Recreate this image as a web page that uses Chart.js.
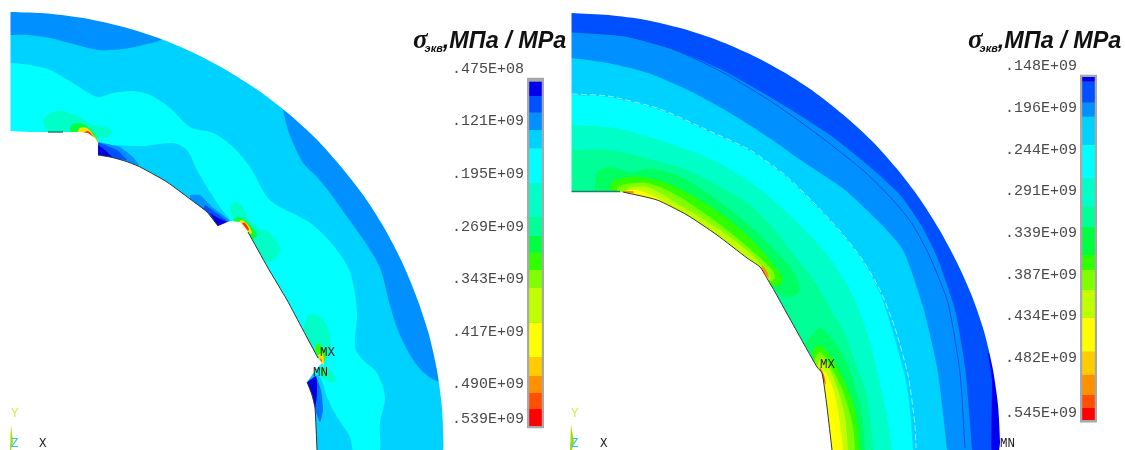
<!DOCTYPE html>
<html>
<head>
  <title>Stress contours</title>
  <script src="https://cdn.jsdelivr.net/npm/chart.js"></script>
  <style>
    html, body { margin: 0; background: #fff; }
    body { width: 1125px; height: 450px; overflow: hidden; position: relative; filter: blur(0.45px); }
    canvas { position: absolute; top: 0; }
    .title { position: absolute; top: 24px; white-space: nowrap; color: #111; font: italic bold 23.4px "Liberation Sans"; }
    .title .sig { font: italic bold 27px "Liberation Serif"; }
    .title sub { font-size: 11px; vertical-align: -4px; margin-left: -3px; margin-right: 0; }
    .note { position: absolute; font: 12.5px "Liberation Mono"; color: #222; line-height: 12px; }
  </style>
</head>
<body>
  <canvas id="contours" width="1125" height="450" style="left:0"></canvas>
  <canvas id="barLeft" width="99" height="450" style="left:445px"></canvas>
  <canvas id="barRight" width="99" height="450" style="left:998px"></canvas>

  <div class="title" style="left:413px"><span class="sig">σ</span><sub>экв</sub>,МПа / MPa</div>
  <div class="title" style="left:968px"><span class="sig">σ</span><sub>экв</sub>,МПа / MPa</div>

  <div class="note" style="left:320px;top:347px">MX</div>
  <div class="note" style="left:313px;top:367px">MN</div>
  <div class="note" style="left:820px;top:359px">MX</div>
  <div class="note" style="left:1000px;top:438px">MN</div>
  <div class="note" style="left:11px;top:408px;color:#c8f050">Y</div>
  <div class="note" style="left:11px;top:438px;color:#30c0ff">Z</div>
  <div class="note" style="left:39px;top:438px">X</div>
  <div class="note" style="left:571px;top:408px;color:#c8f050">Y</div>
  <div class="note" style="left:571px;top:438px;color:#30c0ff">Z</div>
  <div class="note" style="left:600px;top:438px">X</div>

  <script>
    // colour scale, stress in 1e6 Pa
    const bandColors = ['#0000f0','#0050ff','#0090ff','#00d2ff','#00ffff','#00ffc8','#00ff96','#00ff40','#30ff00','#80ff00','#c0ff00','#ffff00','#ffcc00','#ff9000','#ff5000','#ff0000'];
    const leftEdges = [65.3,85.4,108.9,133.1,158.8,207.6,255.3,282,305.4,329.7,354.5,403.7,451.9,478.5,502.4,524.9,548.7];
    const rightEdges = [160.9,166.3,190.3,206.3,238.6,276.4,309.2,332.4,364.4,381.5,404.4,436,474.9,501.5,524.4,539.2,553];
    const leftTicks = [47.5,121,195,269,343,417,490,539];
    const leftTickLabels = ['.475E+08','.121E+09','.195E+09','.269E+09','.343E+09','.417E+09','.490E+09','.539E+09'];
    const rightTicks = [148,196,244,291,339,387,434,482,545];
    const rightTickLabels = ['.148E+09','.196E+09','.244E+09','.291E+09','.339E+09','.387E+09','.434E+09','.482E+09','.545E+09'];

    // left section, outlines
    const leftArc = [[10.5,12],[48,13.6],[86,18.6],[122.5,26.8],[158.5,38],[193,52.6],[226,70],[258,90.3],[288,113.3],[316,138.8],[341,166.7],[363.5,195.5],[384,227.5],[401.5,261],[416.5,296.9],[428.5,332.9],[436.9,369.8],[441.9,407.3],[443.5,445],[443.5,470]];
    const leftHole = [[10.5,131],[30,132],[80,132],[88,133],[95,138],[98,143],[98,155],[110,157],[125,161],[138,166],[153,174],[167,182],[190,199],[207,212],[218,226],[230,221],[240,222],[248,232],[268,268],[287,300],[303,330],[318,358],[322,363],[317,368],[307,382],[312,395],[315,408],[317,450],[317,470],[-10,470],[-10,131]];
    const leftEdgeA = [[98,155],[110,157],[125,161],[138,166],[153,174],[167,182],[190,199],[207,212],[218,226]];
    const leftEdgeB = [[248,232],[268,268],[287,300],[303,330],[318,358]];
    const leftEdgeC = [[307,382],[312,395],[315,408],[317,450]];
    const leftSeam = [[48,132],[63,132]];
    const leftTopBand = [[5,35],[10.5,35],[27,35],[50,38],[77,45],[100,50],[123,49],[143,45],[163,39],[175,25],[100,0],[5,0]];
    const leftSideBand = [[283,110],[287,127],[293,143],[303,163],[317,177],[330,193],[340,207],[353,225],[367,245],[380,268],[390,305],[397,328],[410,355],[423,372],[437,381],[460,385],[460,100],[300,90]];
    const leftCyan = [[5,63],[10.5,63],[30,65],[50,70],[73,83],[97,97],[113,93],[133,91],[150,95],[170,108],[190,127],[213,133],[233,147],[250,167],[267,197],[280,207],[300,217],[313,225],[333,245],[350,272],[357,312],[355,347],[363,360],[377,373],[385,397],[380,422],[378,455],[355,455],[350,437],[337,417],[327,397],[320,377],[310,370],[300,340],[240,240],[230,220],[220,207],[207,187],[197,170],[187,150],[173,143],[143,146],[113,145],[97,143],[80,140],[5,140]];
    const notchA1 = [[98,142],[120,147],[133,157],[139,165],[127,162],[98,155]];
    const notchA2 = [[98,142],[117,150],[127,160],[100,156]];
    const notchA3 = [[98,145],[105,150],[113,158],[98,156]];
    const notchB1 = [[190,195],[200,195],[212,207],[230,221],[218,228],[203,213],[190,200]];
    const notchB2 = [[203,210],[205,205],[215,212],[228,222],[218,227]];
    const notchB3 = [[210,213],[218,218],[227,222],[218,227]];
    const notchC1 = [[316,376],[321,390],[323,410],[320,422],[315,410]];
    const notchC2 = [[307,382],[316,376],[317,393],[315,408],[310,393]];
    const tealA = [[43,120],[50,113],[63,111],[80,117],[90,124],[103,126],[112,131],[107,137],[97,137],[87,134],[50,134],[43,123]];
    const greenA = [[70,128],[73,124],[83,124],[93,132],[99,143],[92,136],[80,134],[70,134]];
    const yellowA = [[77,133],[80,128],[87,128],[95,137],[99,143],[92,136]];
    const redA = [[83,133],[88,131],[93,136],[96,140],[89,135]];
    const tealB = [[230,207],[235,202],[243,207],[248,218],[257,227],[270,233],[280,247],[278,255],[270,262],[262,258],[248,234],[240,224],[232,218]];
    const greenB = [[233,220],[238,217],[245,220],[253,228],[257,235],[252,240],[248,232]];
    const yellowB = [[237,223],[242,220],[248,225],[252,233],[249,234]];
    const redB = [[242,223],[245,223],[249,229],[248,231]];
    const tealC = [[305,322],[310,314],[322,318],[330,335],[330,352],[322,362],[316,358],[303,332]];
    const tealD = [[322,367],[328,368],[337,380],[330,382],[320,377]];
    const greenC = [[315,350],[318,343],[325,353],[324,363],[322,364]];
    const greenD = [[320,368],[325,370],[323,375]];
    const yellowC = [[318,355],[322,353],[324,360],[323,365],[321,363]];
    const orangeC = [[320,358],[322,360],[321,365]];
    const leftTriad = [[11,425],[13,442],[11,450],[10,450]];

    // right section
    const rightArc = [[571.5,13],[608.8,15.1],[645.8,20],[682.1,28.6],[717.5,40.3],[751.7,55],[784.5,72.6],[815.6,92.9],[844.7,115.9],[872,141],[896.7,168.6],[919.2,198],[939.1,229.2],[956.7,261.9],[971.8,295.8],[983.9,331],[992.5,367.3],[997.9,404.2],[1000,441.5],[1000,470]];
    const rightHole = [[571.5,191],[623,192],[657,200],[687,215],[717,235],[747,258],[760,267],[768,280],[775,292],[795,328],[817,367],[822,373],[827,407],[832,450],[832,470],[568,470],[568,191]];
    const rightEdge = [[623,192],[657,200],[687,215],[717,235],[747,258],[760,267],[768,280],[775,292],[795,328],[817,367],[822,373],[827,407],[832,450]];
    const rightSeam = [[571.5,191.5],[620,191.5]];
    const rightDeep = [[988,353],[992,380],[992,470],[1010,470],[1010,353]];
    const contour0090 = [[568,32],[572,32],[625,36],[675,50],[722,70],[775,100],[830,135],[870,167],[900,195],[921,225],[937,257],[955,310],[965,367],[972,450],[972,475],[568,475]];
    const contour00d2 = [[568,58],[572,58],[608,63],[648,73],[688,90],[725,110],[765,135],[805,163],[845,190],[880,223],[903,250],[923,307],[937,367],[947,450],[947,475],[568,475]];
    const contourCyan = [[568,95],[572,95],[608,97],[660,110],[705,130],[750,151],[785,176],[815,205],[840,232],[862,260],[880,293],[893,333],[907,387],[913,450],[913,475],[568,475]];
    const contourTeal = [[568,125],[572,125],[615,128],[665,142],[717,162],[757,187],[795,220],[825,252],[850,290],[868,335],[880,383],[887,417],[892,450],[892,475],[568,475]];
    const contourGreen = [[568,150],[572,150],[610,150],[653,160],[687,170],[717,185],[747,203],[770,225],[790,250],[815,282],[832,312],[843,330],[858,370],[867,397],[873,450],[873,475],[568,475]];
    const rightLine = [[572,32],[625,36],[675,50],[722,72],[775,104],[825,140],[865,172],[893,200],[913,225],[930,257],[948,303],[960,373],[965,448]];
    const rightPale = [[572,94],[608,96],[660,109],[705,129],[750,150],[785,175],[815,204],[840,231],[862,259],[880,290],[895,328],[908,375],[915,425],[916,448]];
    const upperG1 = [[595,183],[597,172],[610,167],[630,172],[650,169],[677,175],[703,190],[733,212],[760,235],[777,253],[790,267],[800,290],[790,297],[778,293],[770,280],[760,267],[707,223],[630,192],[595,192]];
    const upperG2 = [[610,190],[611,184],[618,179],[640,177],[667,183],[700,200],[733,223],[757,245],[772,263],[782,277],[780,285],[772,286],[763,273],[690,220],[623,192]];
    const upperG3 = [[617,192],[618,187],[627,184],[647,183],[673,193],[707,215],[737,238],[760,258],[772,270],[775,277],[770,281],[700,230],[630,195]];
    const upperG4 = [[625,191],[633,187],[650,188],[683,207],[717,228],[750,253],[767,272],[770,279],[765,280],[700,240],[630,195]];
    const upperYellow = [[627,191],[637,190],[657,198],[690,218],[723,242],[753,262],[767,275],[765,278],[690,230],[630,194]];
    const upperOrangeA = [[623,191],[633,191],[634,193],[625,193]];
    const upperOrangeB = [[762,265],[768,273],[769,279],[761,269]];
    const lowerG1 = [[810,337],[820,328],[835,343],[847,363],[855,387],[862,417],[865,450],[865,475],[832,475],[815,365],[805,345]];
    const lowerG2 = [[812,353],[817,346],[823,347],[835,363],[845,383],[855,410],[860,450],[860,475],[832,475],[815,365]];
    const lowerG3 = [[815,358],[820,352],[828,362],[838,380],[847,403],[853,427],[855,450],[855,475],[832,475],[815,365]];
    const lowerG4 = [[818,363],[822,358],[830,370],[838,390],[845,417],[848,450],[848,475],[832,475],[817,368]];
    const lowerYellow = [[820,372],[825,372],[832,385],[838,410],[843,450],[843,475],[830,475]];
    const lowerOrange = [[820,367],[824,375],[826,385],[822,378],[819,372]];
    const rightTriad = [[571,425],[574,442],[572,450],[570,450]];

    // backgrounds and masks, both sections sit on white
    const leftBase = [[0,0],[565,0],[565,470],[0,470]];
    const rightBase = [[568,0],[1125,0],[1125,470],[568,470]];
    const leftMask = [...leftArc, [566,470],[566,-20],[-10,-20],[-10,470],[10.5,470]];
    const rightMask = [...rightArc, [1130,470],[1130,-20],[566,-20],[566,470],[571.5,470]];

    function area(points, color, tension = 0.3) {
      return { data: points.map(p => ({ x: p[0], y: p[1] })), showLine: true, fill: 'shape', backgroundColor: color, borderColor: 'transparent', borderWidth: 0, pointRadius: 0, tension };
    }
    function stroke(points, color, width = 1, dash = []) {
      return { data: points.map(p => ({ x: p[0], y: p[1] })), showLine: true, fill: false, borderColor: color, borderWidth: width, borderDash: dash, pointRadius: 0, tension: 0.2 };
    }

    // painted from the back to the front
    const layers = [
      area(leftBase, '#00d2ff', 0),
      area(leftTopBand, '#0090ff'),
      area(leftSideBand, '#0090ff'),
      area(leftCyan, '#00ffff'),
      area(notchA1, '#0090ff', 0.1), area(notchA2, '#0050ff', 0.1), area(notchA3, '#0000e0', 0.1),
      area(notchB1, '#0090ff', 0.1), area(notchB2, '#0050ff', 0.1), area(notchB3, '#0000e0', 0.1),
      area(notchC1, '#0070ff', 0.2), area(notchC2, '#0000e0', 0.2),
      area(tealA, '#00ffc8'), area(greenA, '#00ff40'), area(yellowA, '#ffe000'), area(redA, '#ff3000'),
      area(tealB, '#00ffc8'), area(greenB, '#00ff40'), area(yellowB, '#ffe000'), area(redB, '#ff3000'),
      area(tealC, '#00ffc8'), area(tealD, '#00ffc8'), area(greenC, '#30ff00'), area(greenD, '#60ff00'),
      area(yellowC, '#ffe000'), area(orangeC, '#ff6000'),
      area(leftHole, '#ffffff', 0),
      area(leftMask, '#ffffff', 0.25),
      stroke(leftEdgeA, '#333333'), stroke(leftEdgeB, '#333333'), stroke(leftEdgeC, '#333333'),
      stroke(leftSeam, '#208070', 1.5),
      area(leftTriad, '#a0e000', 0),

      area(rightBase, '#0050ff', 0),
      area(rightDeep, '#0000f0', 0.1),
      area(contour0090, '#0090ff', 0.2),
      area(contour00d2, '#00d2ff', 0.2),
      area(contourCyan, '#00ffff', 0.3),
      area(contourTeal, '#00ffc8', 0.3),
      area(contourGreen, '#00ff96', 0.3),
      stroke(rightLine, '#0050e8'),
      stroke(rightPale, '#90f0ff', 1, [6, 3]),
      area(upperG1, '#00ff60'), area(upperG2, '#30ff00'), area(upperG3, '#80ff00'), area(upperG4, '#c0ff00'), area(upperYellow, '#ffff00'),
      area(upperOrangeA, '#ff9000', 0), area(upperOrangeB, '#ff9000', 0),
      area(lowerG1, '#00ff60'), area(lowerG2, '#30ff00'), area(lowerG3, '#80ff00'), area(lowerG4, '#c0ff00'), area(lowerYellow, '#ffff00'),
      area(lowerOrange, '#ff6000', 0.1),
      area(rightHole, '#ffffff', 0),
      area(rightMask, '#ffffff', 0.25),
      stroke(rightEdge, '#333333'),
      stroke(rightSeam, '#208070', 1.5),
      area(rightTriad, '#a0e000', 0)
    ];

    new Chart(document.getElementById('contours'), {
      type: 'scatter',
      data: { datasets: layers.slice().reverse() },  // first dataset is drawn last
      options: {
        responsive: false,
        animation: false,
        events: [],
        layout: { padding: 0 },
        plugins: { legend: { display: false }, tooltip: { enabled: false } },
        scales: {
          x: { type: 'linear', min: 0, max: 1125, display: false },
          y: { type: 'linear', min: 0, max: 450, reverse: true, display: false }
        }
      }
    });

    function colorBar(id, edges, ticks, labels, min, max, frame) {
      const bands = bandColors.map((color, i) => ({
        data: [[edges[i], edges[i + 1]]], backgroundColor: color, barPercentage: 0.74, categoryPercentage: 1, grouped: false
      }));
      bands.push({ data: [frame], backgroundColor: '#a8a8a8', barPercentage: 1, categoryPercentage: 1, grouped: false });
      new Chart(document.getElementById(id), {
        type: 'bar',
        data: { labels: ['stress'], datasets: bands },
        options: {
          responsive: false,
          animation: false,
          events: [],
          layout: { padding: 0 },
          plugins: { legend: { display: false }, tooltip: { enabled: false } },
          scales: {
            x: { display: false },
            y: {
              min, max, reverse: true,
              afterBuildTicks: axis => { axis.ticks = ticks.map(value => ({ value })); },
              afterFit: axis => { axis.width = 82; axis.paddingTop = 0; axis.paddingBottom = 0; },
              grid: { display: false, drawTicks: false },
              border: { display: false },
              ticks: {
                autoSkip: false, padding: 3, color: '#4a4a4a',
                font: { family: 'Liberation Mono', size: 15 },
                callback: (v, i) => labels[i]
              }
            }
          }
        }
      });
    }

    colorBar('barLeft', leftEdges, leftTicks, leftTickLabels, -49.4, 582.4, [60.1, 551.5]);
    colorBar('barRight', rightEdges, rightTicks, rightTickLabels, 72.9, 587.3, [158.7, 555.5]);
  </script>
</body>
</html>
